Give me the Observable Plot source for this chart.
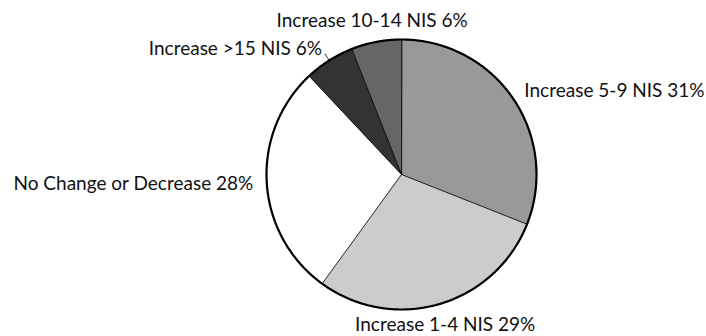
<!DOCTYPE html>
<html>
<head>
<meta charset="utf-8">
<script src="https://cdn.jsdelivr.net/npm/d3@7"></script>
<script src="https://cdn.jsdelivr.net/npm/@observablehq/plot@0.6"></script>
<style>
  html, body { margin: 0; padding: 0; background: #fff; }
</style>
</head>
<body>
<div id="chart"></div>
<script>
// Data (clockwise from 12 o'clock)
const categories = ["Increase 5-9 NIS", "Increase 1-4 NIS", "No Change or Decrease", "Increase >15 NIS", "Increase 10-14 NIS"];
const shares = [31, 29, 28, 6, 6];
const colors = ["#999999", "#cccccc", "#ffffff", "#333333", "#666666"];
const leaderCategories = ["Increase >15 NIS"];

const total = d3.sum(shares);
const slices = [];
let acc = 0;
categories.forEach((c, i) => {
  const a0 = acc / total * 2 * Math.PI;
  acc += shares[i];
  const a1 = acc / total * 2 * Math.PI;
  slices.push({category: c, share: shares[i], a0, a1, mid: (a0 + a1) / 2});
});

// slice outlines as polygons in unit coordinates
const pts = [];
for (const s of slices) {
  pts.push({category: s.category, x: 0, y: 0});
  const n = Math.max(2, Math.ceil((s.a1 - s.a0) / (Math.PI / 360)));
  for (let k = 0; k <= n; k++) {
    const a = s.a0 + (s.a1 - s.a0) * k / n;
    pts.push({category: s.category, x: Math.sin(a), y: Math.cos(a)});
  }
}
const ring = d3.range(0, 721).map(k => {
  const a = k / 720 * 2 * Math.PI;
  return {x: Math.sin(a), y: Math.cos(a)};
});

const labels = slices.map(s => {
  const sx = Math.sin(s.mid);
  const anchor = sx > 0.5 ? "start" : sx < -0.5 ? "end" : "middle";
  const R = anchor === "middle" ? 1.16 : 1.10;
  return {
    text: `${s.category} ${s.share}%`,
    x: R * sx,
    y: R * Math.cos(s.mid),
    anchor
  };
});
const leaders = slices.filter(s => leaderCategories.includes(s.category)).map(s => ({
  x1: 1.0 * Math.sin(s.mid), y1: 1.0 * Math.cos(s.mid),
  x2: 1.06 * Math.sin(s.mid), y2: 1.06 * Math.cos(s.mid)
}));

const chart = Plot.plot({
  width: 706,
  height: 336,
  marginLeft: 266,
  marginRight: 170,
  marginTop: 39,
  marginBottom: 27,
  x: {domain: [-1, 1], axis: null},
  y: {domain: [-1, 1], axis: null},
  color: {domain: categories, range: colors},
  style: {fontFamily: "Lato, sans-serif", fontSize: "19px", color: "#111", overflow: "visible"},
  marks: [
    Plot.line(pts, {x: "x", y: "y", z: "category", fill: "category", stroke: "#000", strokeWidth: 0.8, curve: "linear-closed"}),
    Plot.line(ring, {x: "x", y: "y", stroke: "#000", strokeWidth: 2.2, curve: "linear-closed"}),
    Plot.link(leaders, {x1: "x1", y1: "y1", x2: "x2", y2: "y2", stroke: "#000", strokeWidth: 0.8}),
    ...["start", "middle", "end"].map(anchor =>
      Plot.text(labels.filter(d => d.anchor === anchor), {x: "x", y: "y", text: "text", textAnchor: anchor, fill: "#111", fontSize: 19})
    )
  ]
});
document.getElementById("chart").appendChild(chart);
</script>
</body>
</html>
